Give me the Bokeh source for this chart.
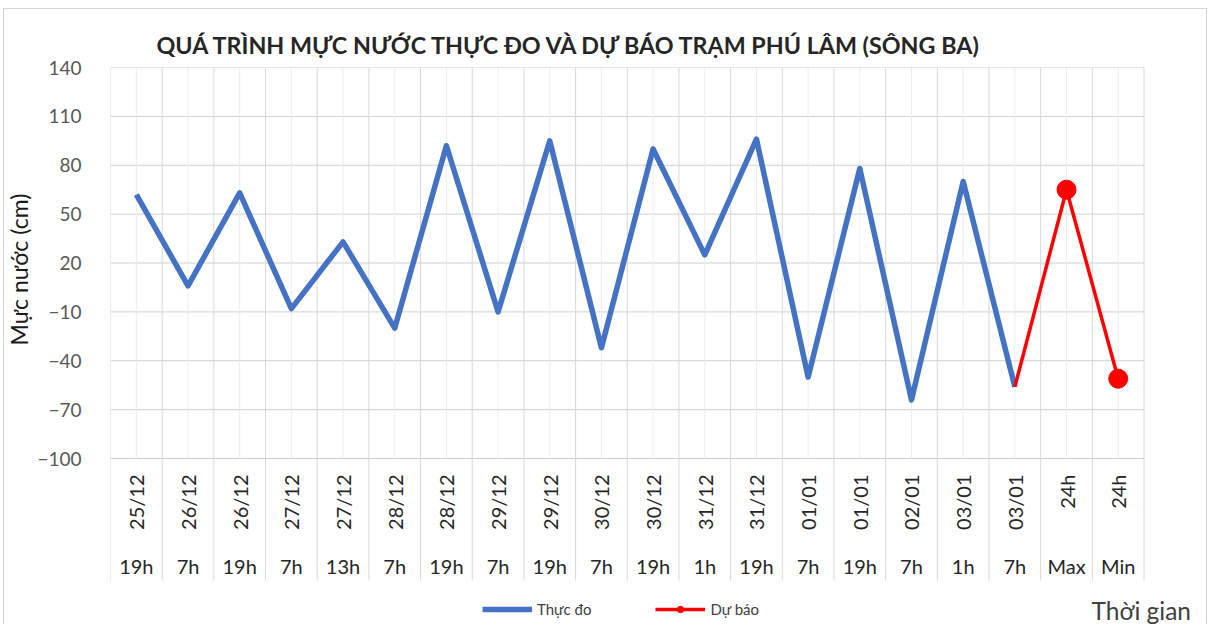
import math
from bokeh.plotting import figure
from bokeh.models import Range1d, FixedTicker, Legend, LegendItem, Title
from bokeh.embed import file_html
from bokeh.resources import INLINE

# ---- data ----
dates = ["25/12", "26/12", "26/12", "27/12", "27/12", "28/12", "28/12", "29/12",
         "29/12", "30/12", "30/12", "31/12", "31/12", "01/01", "01/01", "02/01",
         "03/01", "03/01", "24h", "24h"]
hours = ["19h", "7h", "19h", "7h", "13h", "7h", "19h", "7h", "19h", "7h", "19h",
         "1h", "19h", "7h", "19h", "7h", "1h", "7h", "Max", "Min"]
observed = [62, 6, 63, -8, 33, -20, 92, -10, 95, -32, 90, 25, 96, -50, 78, -64, 70, -56]
forecast = [-56, 65, -51]          # 03/01 7h, 24h Max, 24h Min
y_ticks = [-100, -70, -40, -10, 20, 50, 80, 110, 140]

title = "QUÁ TRÌNH MỰC NƯỚC THỰC ĐO VÀ DỰ BÁO TRẠM PHÚ LÂM (SÔNG BA)"
FONT = "Lato"

# ---- layout constants ----
OX, OY = 4, 9                               # canvas offset inside the bordered box
W, H = 1204, 616
TOP, LEFT = 67 - OY, 101 - OX
PLOT_W = 1042                               # width of the category area (px)
PX_PER_UNIT = 391 / 240.0                   # plot area: 240 units over 391 px
n = len(dates)
px_per_cat = PLOT_W / n
x_end = n + (W - LEFT - PLOT_W) / px_per_cat
y_top = y_ticks[-1]
y_bottom_axis = y_ticks[0]
y_start = y_top - (H - TOP) / PX_PER_UNIT   # frame extends down to canvas bottom
frame_bottom = OY + H


def y_at(px_below_top):
    return y_top - px_below_top / PX_PER_UNIT


centers = [i + 0.5 for i in range(n)]
bounds = [float(i) for i in range(n + 1)]
x_obs = centers[:len(observed)]
x_fc = centers[len(observed) - 1:len(observed) - 1 + len(forecast)]

p = figure(width=W, height=H, x_range=Range1d(0, x_end), y_range=Range1d(y_start, y_top),
           output_backend="svg", toolbar_location=None, x_axis_location=None,
           min_border_left=LEFT, min_border_right=0, min_border_top=TOP,
           min_border_bottom=0)
p.styles = {"margin-left": "3px", "margin-top": "8px",
            "border-left": "1px solid #d6d6d6", "border-top": "1px solid #d6d6d6",
            "border-right": "1px solid #d6d6d6"}
p.outline_line_color = None
p.background_fill_color = "white"
p.border_fill_color = "white"
for g in p.xgrid:
    g.visible = False
for g in p.ygrid:
    g.visible = False

# title
p.title.text = title
p.title.text_font = FONT
p.title.text_font_size = "23.3px"
p.title.text_font_style = "bold"
p.title.text_color = "#262626"
p.title.align = "left"
p.title.offset = 46
p.title.standoff = 17

# y axis
ya = p.yaxis[0]
ya.ticker = FixedTicker(ticks=y_ticks)
ya.major_tick_line_color = None
ya.minor_tick_line_color = None
ya.axis_line_color = None
ya.major_label_standoff = 23
ya.major_label_text_font = FONT
ya.major_label_text_font_size = "19px"
ya.major_label_text_color = "#595959"

p.add_layout(Title(text="Mực nước (cm)", align="left", offset=frame_bottom - 345,
                   vertical_align="top",
                   text_font=FONT, text_font_size="23px", text_font_style="normal",
                   text_color="#1a1a1a", standoff=0), "left")

# gridlines
p.segment(x0=[0] * len(y_ticks), y0=y_ticks, x1=[n] * len(y_ticks), y1=y_ticks,
          line_color="#d0d0d0", line_width=1, level="underlay")
y_sep = y_at(513)
p.segment(x0=centers, y0=y_bottom_axis, x1=centers, y1=y_top,
          line_color="#ededed", line_width=1, level="underlay")
p.segment(x0=bounds, y0=y_sep, x1=bounds, y1=y_top,
          line_color="#d9d9d9", line_width=1, level="underlay")

# category labels (two levels)
p.text(x=centers, y=y_at(407), text=dates, angle=math.pi / 2,
       text_align="right", text_baseline="middle", text_font={"value": FONT},
       text_font_size="20px", text_color="#262626")
p.text(x=centers, y=y_at(498), text=hours, text_align="center",
       text_baseline="middle", text_font={"value": FONT},
       text_font_size="20px", text_color="#262626")

# series
r_obs = p.line(x_obs, observed, line_width=5.5, line_color="#4472C4", line_join="round")
r_fc = p.line(x_fc, forecast, line_width=3.5, line_color="#FF0000", line_join="round")
r_mk = p.scatter(x_fc[1:], forecast[1:], size=19, color="#FF0000")

legend = Legend(items=[LegendItem(label="Thực đo", renderers=[r_obs]),
                       LegendItem(label="Dự báo", renderers=[r_fc, r_mk])],
                orientation="horizontal", location=(372, frame_bottom - 618),
                border_line_color=None, background_fill_alpha=0,
                label_text_font=FONT, label_text_font_size="15px",
                label_text_color="#404040", glyph_width=50, glyph_height=16,
                label_height=16, label_standoff=5, spacing=64, padding=0, margin=0)
p.add_layout(legend)

p.text(x=[(1090 - 101) / px_per_cat], y=[y_at(543)], text=["Thời gian"],
       text_align="left", text_baseline="middle", text_font={"value": FONT},
       text_font_size="24.5px", text_color="#404040")

open("out.html", "w").write(file_html(p, INLINE))
